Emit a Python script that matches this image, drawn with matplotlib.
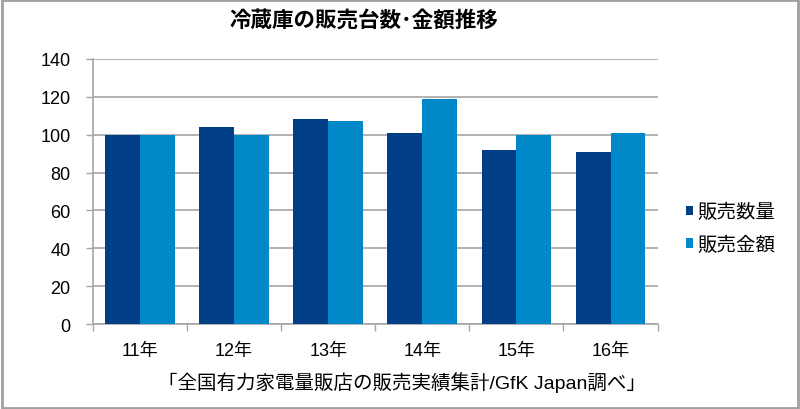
import numpy as np
import matplotlib.pyplot as plt
from matplotlib.patches import Rectangle

plt.rcParams['font.family'] = ['Liberation Sans', 'Noto Sans CJK JP']

years = ['11年', '12年', '13年', '14年', '15年', '16年']
units = [100, 104, 108, 101, 92, 91]      # 販売数量
amount = [100, 100, 107, 119, 100, 101]   # 販売金額
series_names = ['販売数量', '販売金額']
title = '冷蔵庫の販売台数･金額推移'
source = '「全国有力家電量販店の販売実績集計/GfK Japan調べ」'

dark = '#003F87'
light = '#0088C8'
grid_c = '#A6A6A6'

fig = plt.figure(figsize=(8, 4.1), dpi=100)
ax = fig.add_axes([0.116, 0.207, 0.706, 0.647])

x = np.arange(len(years))
w = 0.37
b1 = ax.bar(x - w / 2, units, w, color=dark, label=series_names[0], zorder=3)
b2 = ax.bar(x + w / 2, amount, w, color=light, label=series_names[1], zorder=3)

ax.set_xlim(-0.5, len(years) - 0.5)
ax.set_ylim(0, 140)
ax.set_yticks(np.arange(0, 141, 20))
ax.yaxis.grid(True, color=grid_c, linewidth=1.2, zorder=0)
ax.set_axisbelow(True)

ax.set_xticks(x)
ax.set_xticklabels(years)
ax.set_xticks(np.arange(-0.5, len(years)), minor=True)
ax.tick_params(axis='x', which='major', length=0, pad=13, labelsize=13)
ax.tick_params(axis='x', which='minor', length=5, color=grid_c, width=1)
ax.tick_params(axis='y', length=5, color=grid_c, width=1, pad=11, labelsize=13)

for s in ['top', 'right']:
    ax.spines[s].set_visible(False)
for s in ['left', 'bottom']:
    ax.spines[s].set_color(grid_c)
    ax.spines[s].set_linewidth(1.2)

fig.text(0.455, 0.945, title, ha='center', va='center', fontsize=15.5, fontweight='bold')
fig.text(0.502, 0.068, source, ha='center', va='center', fontsize=14)

leg = fig.legend(handles=[b1, b2], loc='center left', bbox_to_anchor=(0.835, 0.44),
                 frameon=False, fontsize=14, handlelength=0.38, handleheight=0.38,
                 handletextpad=0.25, labelspacing=0.75)

fig.patches.append(Rectangle((0.002, 0.003), 0.996, 0.994, transform=fig.transFigure,
                             fill=False, edgecolor='#A0A0A0', linewidth=2))

fig.savefig('out.png', dpi=100)
